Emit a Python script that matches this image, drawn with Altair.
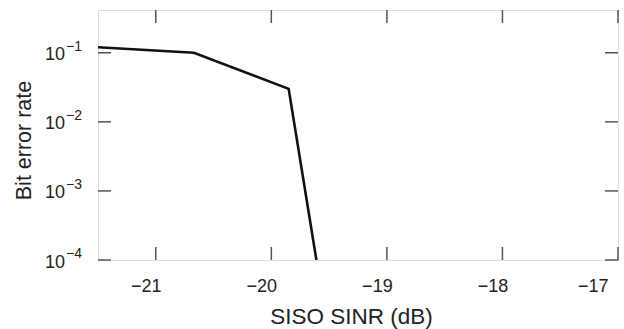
import altair as alt
import pandas as pd

# data
sinr = [-21.5, -20.67, -19.85, -19.61]
ber = [0.12, 0.10, 0.030, 0.0001]

x_ticks = [-21, -20, -19, -18, -17]
y_ticks = [1e-1, 1e-2, 1e-3, 1e-4]
y_exp = ["\u22121", "\u22122", "\u22123", "\u22124"]

W, H = 520, 250
FONT = "Liberation Sans"
TXT = "#222222"
TICK = "#555555"
TL = 13

df = pd.DataFrame({"sinr": sinr, "ber": ber})
dfx = pd.DataFrame({"sinr": x_ticks})
dfy = pd.DataFrame({"ber": y_ticks, "exp": y_exp, "base": ["10"] * 4})

xs = alt.Scale(domain=[-21.5, -17], nice=False, zero=False)
ys = alt.Scale(type="log", domain=[1e-4, 0.416], nice=False)

line = alt.Chart(df).mark_line(color="#111111", strokeWidth=2.6, clip=True).encode(
    x=alt.X("sinr:Q", scale=xs,
            axis=alt.Axis(values=x_ticks, format="d", ticks=False, domain=False, grid=False,
                          labelFont=FONT, labelFontSize=18, labelColor=TXT,
                          labelPadding=17, labelOffset=-10,
                          title="SISO SINR (dB)", titleFont=FONT, titleFontSize=22.5,
                          titleFontWeight="normal", titleColor=TXT,
                          titleX=253, titleY=63, titleBaseline="alphabetic")),
    y=alt.Y("ber:Q", scale=ys,
            axis=alt.Axis(labels=False, ticks=False, domain=False, grid=False,
                          title="Bit error rate", titleFont=FONT, titleFontSize=21.5,
                          titleFontWeight="normal", titleColor=TXT,
                          titleX=-68, titleY=130, titleBaseline="alphabetic")),
)

xt_top = alt.Chart(dfx).mark_rule(color=TICK, strokeWidth=1.5).encode(
    x=alt.X("sinr:Q", scale=xs), y=alt.value(0), y2=alt.value(TL))
xt_bot = alt.Chart(dfx).mark_rule(color=TICK, strokeWidth=1.5).encode(
    x=alt.X("sinr:Q", scale=xs), y=alt.value(H), y2=alt.value(H - TL))
yt_left = alt.Chart(dfy).mark_rule(color=TICK, strokeWidth=1.5).encode(
    y=alt.Y("ber:Q", scale=ys), x=alt.value(0), x2=alt.value(TL))
yt_right = alt.Chart(dfy).mark_rule(color=TICK, strokeWidth=1.5).encode(
    y=alt.Y("ber:Q", scale=ys), x=alt.value(W), x2=alt.value(W - TL))

ylab_base = alt.Chart(dfy).mark_text(font=FONT, fontSize=18, color=TXT, align="right",
                                     baseline="alphabetic", dy=7.5).encode(
    y=alt.Y("ber:Q", scale=ys), x=alt.value(-33), text="base:N")
ylab_exp = alt.Chart(dfy).mark_text(font=FONT, fontSize=14, color=TXT, align="left",
                                    baseline="alphabetic", dy=-2).encode(
    y=alt.Y("ber:Q", scale=ys), x=alt.value(-32), text="exp:N")

chart = alt.layer(line, xt_top, xt_bot, yt_left, yt_right, ylab_base, ylab_exp).properties(
    width=W, height=H,
    autosize=alt.AutoSizeParams(type="none"),
    padding={"left": 98, "top": 10, "right": 6, "bottom": 69},
).configure_view(stroke="#333333", strokeWidth=1.6).configure(background="white")

chart.save("out.html", embed_options={"renderer": "svg", "actions": False})
